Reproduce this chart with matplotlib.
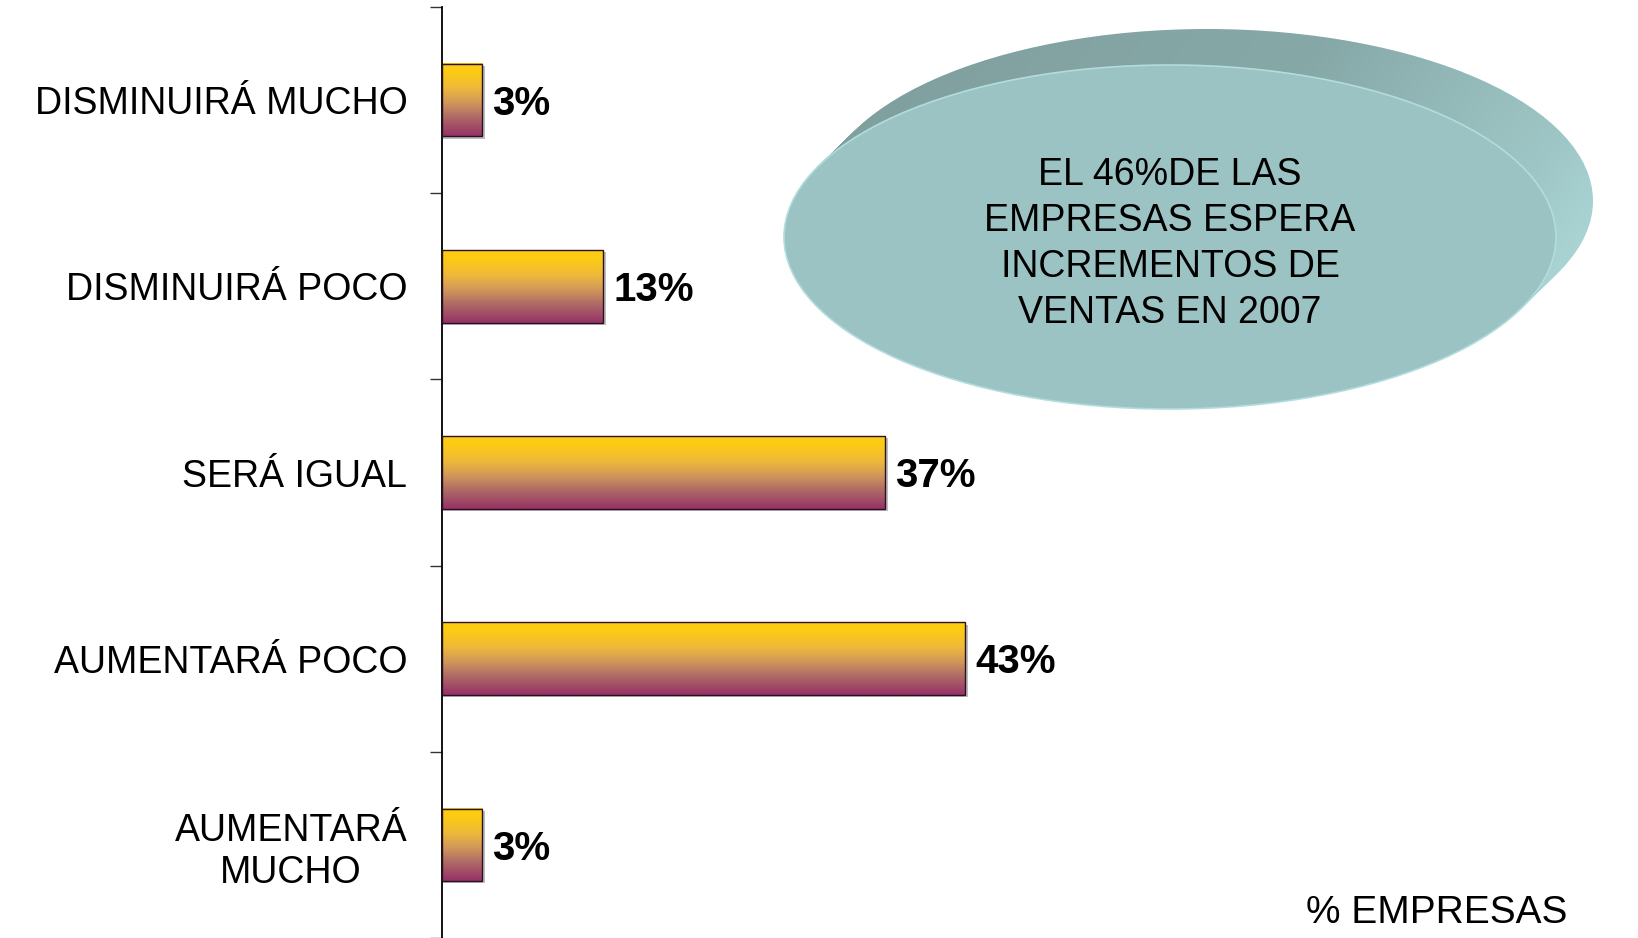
import numpy as np
import matplotlib
matplotlib.use("Agg")
import matplotlib.pyplot as plt
from matplotlib.colors import LinearSegmentedColormap
from matplotlib.patches import Ellipse, Rectangle

# ---------------- data ----------------
categories = ["DISMINUIRÁ MUCHO", "DISMINUIRÁ POCO", "SERÁ IGUAL",
              "AUMENTARÁ POCO", "AUMENTARÁ\nMUCHO"]
values = [3.33, 13.33, 36.67, 43.33, 3.33]
value_labels = ["3%", "13%", "37%", "43%", "3%"]
callout_text = "EL 46%DE LAS\nEMPRESAS ESPERA\nINCREMENTOS DE\nVENTAS EN 2007"
unit_label = "% EMPRESAS"

plt.rcParams['font.family'] = ['Liberation Sans', 'DejaVu Sans']

W, H = 1638, 938
fig = plt.figure(figsize=(W / 100, H / 100), dpi=100)
fig.patch.set_facecolor("white")

# ---------------- callout disc (background overlay) ----------------
ov = fig.add_axes([0, 0, 1, 1], zorder=0)
ov.set_xlim(0, W)
ov.set_ylim(H, 0)
ov.axis("off")

cx, cy, a, b = 1170, 237, 386, 172
dx, dy = 37, -36
gx = np.linspace(0, 1, 256)
gy = np.linspace(0, 1, 256)
GX, GY = np.meshgrid(gx, gy)
grad = np.clip(0.75 * GX + 0.25 * GY, 0, 1)
rim_cmap = LinearSegmentedColormap.from_list(
    "rim", [(0.0, "#7f9e9d"), (0.5, "#86a9a8"), (0.8, "#9fc6c6"), (1.0, "#b5e3e3")])
for t in np.linspace(0, 1, 30):
    e = Ellipse((cx + dx * t, cy + dy * t), 2 * a, 2 * b, facecolor="none", edgecolor="none")
    ov.add_patch(e)
    im2 = ov.imshow(grad, extent=(cx + dx - a, cx + dx + a,
                                  cy + dy + b, cy + dy - b),
                    cmap=rim_cmap, aspect="auto", origin="upper", zorder=1)
    im2.set_clip_path(e)
front = Ellipse((cx, cy), 2 * a, 2 * b, facecolor="#9cc3c4",
                edgecolor="#b3dcdc", linewidth=1.2, zorder=3)
ov.add_patch(front)
ov.set_xlim(0, W)
ov.set_ylim(H, 0)
ov.text(cx, 244, callout_text, ha="center", va="center", fontsize=27,
        linespacing=1.35, color="black", zorder=4)
ov.text(1567, 923, unit_label, ha="right", va="baseline", fontsize=28, color="black", zorder=4)

# ---------------- bar chart ----------------
left_px, top_px = 442, 7
px_per_unit = 12.07
ax = fig.add_axes([left_px / W, 0, 1 - left_px / W, (H - top_px) / H], zorder=2)
ax.patch.set_alpha(0)
xmax = (W - left_px) / px_per_unit
n = len(categories)
ypos = np.arange(n)
bh = 0.39

bar_cmap = LinearSegmentedColormap.from_list(
    "bar", [(0.0, "#fdcd10"), (0.12, "#fccb14"), (0.35, "#eeb83c"),
            (0.55, "#cf965a"), (0.75, "#ae6866"), (1.0, "#963266")])
gcol = np.linspace(0, 1, 200).reshape(-1, 1)

for y, v, lab in zip(ypos, values, value_labels):
    ax.add_patch(Rectangle((0, y - bh / 2 + 0.012), v + 0.25, bh, facecolor="#bdbdbd",
                           edgecolor="none", zorder=1))
    ax.imshow(gcol, extent=(0, v, y + bh / 2, y - bh / 2), cmap=bar_cmap,
              aspect="auto", origin="upper", zorder=2)
    ax.add_patch(Rectangle((0, y - bh / 2), v, bh, facecolor="none",
                           edgecolor="#2b1020", linewidth=1.0, zorder=3))
    ax.text(v + 0.85, y + 0.02, lab, ha="left", va="center", fontsize=29,
            fontweight="bold", color="black", zorder=4)

ax.set_xlim(0, xmax)
ax.set_ylim(n - 0.5, -0.5)

for s in ["top", "right", "bottom"]:
    ax.spines[s].set_visible(False)
ax.spines["left"].set_linewidth(1.3)
ax.spines["left"].set_color("black")

ax.set_xticks([])
ax.set_yticks(np.arange(-0.5, n, 1.0))
ax.set_yticklabels([])
ax.tick_params(axis="y", which="major", direction="out", length=9, width=1.0, color="#333333")
ax.set_yticks(ypos, minor=True)
ax.set_yticklabels(categories, minor=True, fontsize=27, multialignment="center")
ax.tick_params(axis="y", which="minor", length=0, pad=25)

fig.savefig("out.png", dpi=100, facecolor="white")
